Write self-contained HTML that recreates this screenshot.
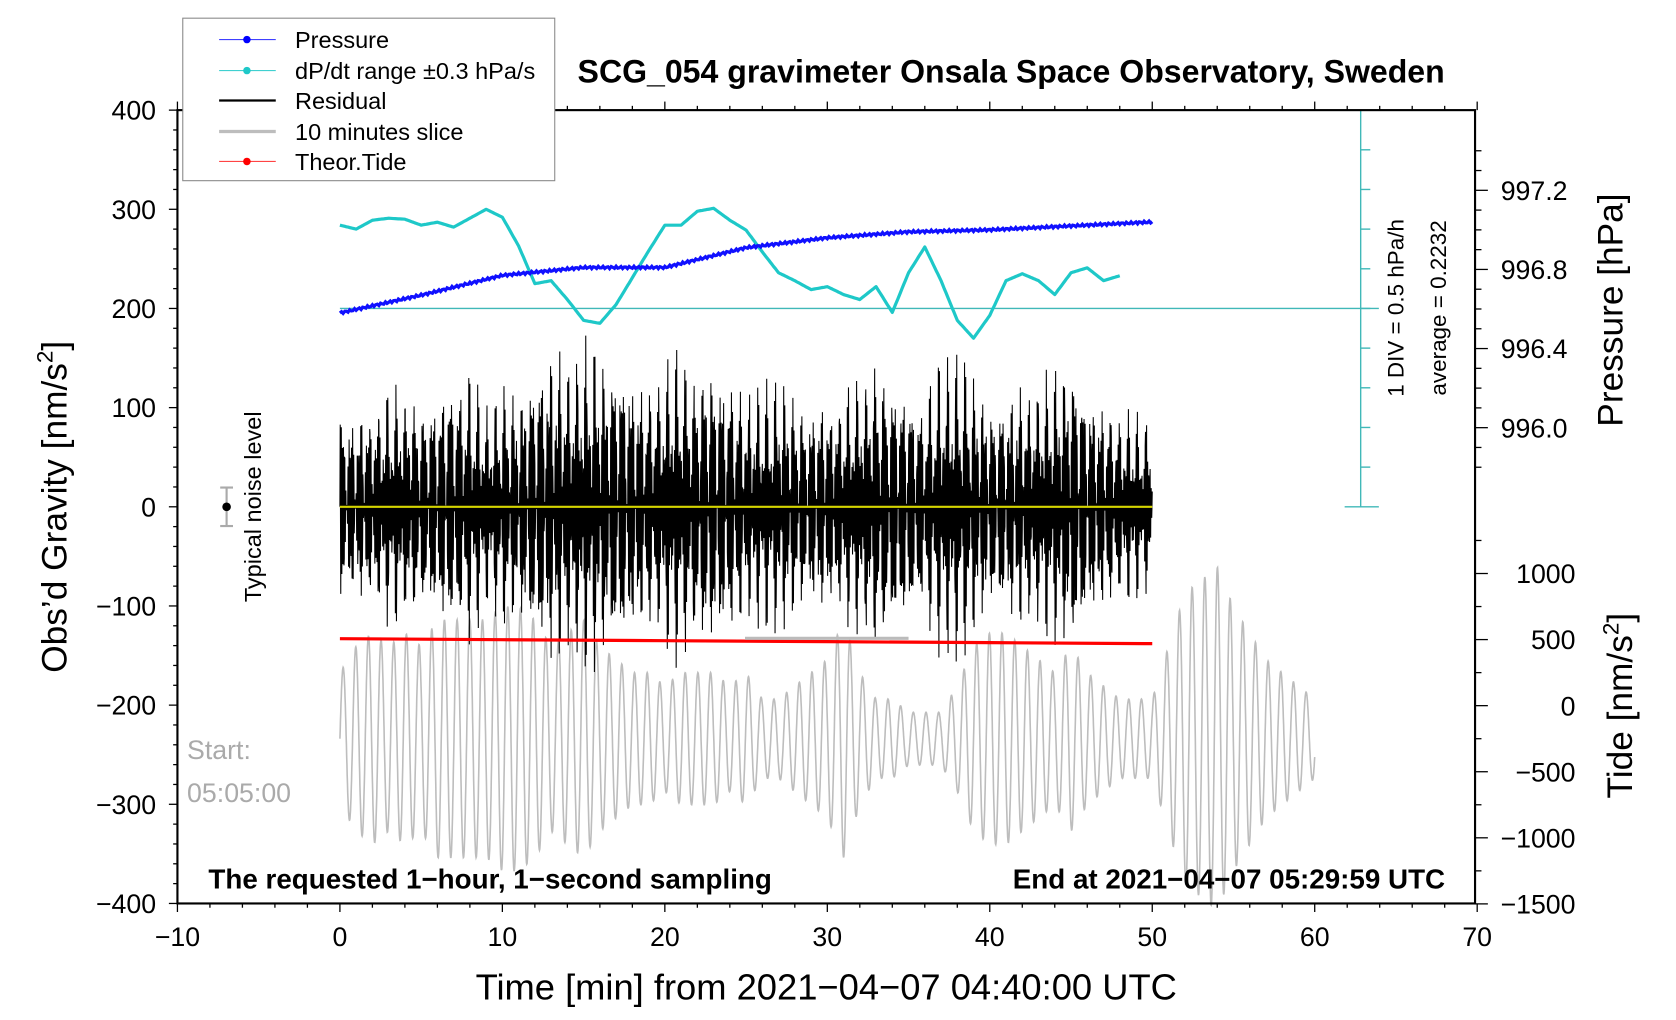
<!DOCTYPE html>
<html><head><meta charset="utf-8"><style>
html,body{margin:0;padding:0;background:#fff}
svg{display:block;font-family:"Liberation Sans",sans-serif}
</style></head><body>
<svg id="chart" width="1676" height="1020" viewBox="0 0 1568 954" preserveAspectRatio="none" xmlns="http://www.w3.org/2000/svg">
<rect width="1568" height="954" fill="#fff"/>
<g id="marks"></g>
<g id="axes"></g>
</svg>
<script>
// ---- data ----
const pressMin = [0,5,10,15,20,25,30,35,40,45,50];
const pressVal = [996.58,996.67,996.77,996.81,996.81,996.91,996.96,996.99,997.00,997.02,997.04];
const dpdtMin = [0,1,2,3,4,5,6,7,8,9,10,11,12,13,14,15,16,17,18,19,20,21,22,23,24,25,26,27,28,29,30,31,32,33,34,35,36,37,38,39,40,41,42,43,44,45,46,47,48];
const dpdtVal = [284,280,289,291,290,284,287,282,291,300,292,263,225,228,209,188,185,204,231,258,284,284,298,301,289,279,257,236,228,219,222,214,209,222,196,236,262,228,188,170,193,228,235,228,214,236,241,228,233];
const residAmp = [110,95,120,130,140,120,130,150,145,110,130,120,150,170,160,180,175,170,150,140,160,180,150,160,140,120,130,140,120,110,120,130,150,170,150,130,120,160,170,140,110,120,130,140,150,180,130,120,110,100,100];
const sliceAmp = [500,700,800,700,800,700,900,900,900,900,1000,1000,900,700,800,900,700,600,500,500,400,500,500,500,400,500,300,300,400,500,600,900,500,300,300,200,200,200,400,700,800,800,700,600,500,700,500,400,300,300,300,700,1100,1200,1300,1000,800,600,500,400,300];
const sliceCenter = -250;
const tideMin = [0,10,20,30,40,50];
const tideVal = [-133,-134,-135,-136,-137,-138];
const xTicks = [-10,0,10,20,30,40,50,60,70];
const yTicks = [400,300,200,100,0,-100,-200,-300,-400];
const pTicks = [997.2,996.8,996.4,996.0];
const tTicks = [1000,500,0,-500,-1000,-1500];

// ---- axes functions ----
const X = m => 318 + m*15.2;
const Y = v => 474 - v*0.9275;
const P = p => 178 + (997.2-p)*185;
const T = t => 660 - t*0.1236;
const NS='http://www.w3.org/2000/svg';
const marks=document.getElementById('marks'), axes=document.getElementById('axes');
function mk(tag,attrs,parent,txt){const e=document.createElementNS(NS,tag);for(const k in attrs)e.setAttribute(k,attrs[k]);if(txt!==undefined)e.textContent=txt;parent.appendChild(e);return e;}
function interp(xs,ys,x){if(x<=xs[0])return ys[0];for(let i=1;i<xs.length;i++){if(x<=xs[i]){const f=(x-xs[i-1])/(xs[i]-xs[i-1]);return ys[i-1]+f*(ys[i]-ys[i-1]);}}return ys[ys.length-1];}

// gray 10-minute slice
let d='';
for(let i=0;i<=600*6;i++){const m=i/60;const a=interp(sliceAmp.map((_,k)=>k),sliceAmp,m);const v=sliceCenter+a*Math.sin(m*2*Math.PI/0.78);d+=(i?'L':'M')+X(m).toFixed(1)+','+T(v).toFixed(1);}
let e=mk('path',{d:d,fill:'none',stroke:'#bdbdbd','stroke-width':1.5},marks);



// residual
d='';
for(let i=0;i<=3000;i++){const m=i/60;const a=interp(residAmp.map((_,k)=>k),residAmp,m);const mod=0.5+0.3*Math.sin(m*11.3)+0.2*Math.sin(m*23.7+1.1);const v=a*Math.sin(m*2*Math.PI/0.07+0.6*Math.sin(m*3.1))*mod;d+=(i?'L':'M')+X(m).toFixed(1)+','+Y(v).toFixed(1);}
e=mk('path',{d:d,fill:'none',stroke:'#000','stroke-width':1},marks);



// yellow zero line
e=mk('line',{x1:X(0),x2:X(50),y1:Y(0),y2:Y(0),stroke:'#d4d400','stroke-width':2},marks);



// tide red
e=mk('path',{d:tideMin.map((m,i)=>(i?'L':'M')+X(m)+','+Y(tideVal[i])).join(''),fill:'none',stroke:'#f00','stroke-width':3},marks);



// cyan baseline/scale
e=mk('line',{x1:X(0),x2:1290,y1:Y(200),y2:Y(200),stroke:'#40b8b8','stroke-width':1.3},marks);


e=mk('g',{stroke:'#40b8b8','stroke-width':1.3},marks);


mk('line',{x1:1273,x2:1273,y1:103,y2:474},e);
mk('line',{x1:1258,x2:1290,y1:474,y2:474},e);
for(let k=1;k<10;k++){const y=103+k*37.1;mk('line',{x1:1273,x2:1282,y1:y,y2:y},e);}

// cyan dP/dt
d='';
for(let i=0;i<=480;i++){const m=i/10;const v=interp(dpdtMin,dpdtVal,m);d+=(i?'L':'M')+X(m).toFixed(1)+','+Y(v).toFixed(1);}
e=mk('path',{d:d,fill:'none',stroke:'#1ec8c8','stroke-width':3,'stroke-linejoin':'round'},marks);



// pressure
d='';
for(let i=0;i<=500;i++){const m=i/10;const v=interp(pressMin,pressVal,m)+0.006*Math.sin(i*2.3);d+=(i?'L':'M')+X(m).toFixed(1)+','+P(v).toFixed(1);}
e=mk('path',{d:d,fill:'none',stroke:'#1010ff','stroke-width':3},marks);



// frame
e=mk('rect',{x:166,y:103,width:1214,height:742,fill:'none',stroke:'#000','stroke-width':2},axes);



// x ticks
const xg=mk('g',{},axes);


for(let m=-10;m<=70;m+=2){const maj=m%10===0;mk('line',{x1:X(m),x2:X(m),y1:845,y2:845+(maj?8:4),stroke:'#000','stroke-width':1.2},xg);mk('line',{x1:X(m),x2:X(m),y1:103,y2:103-(maj?8:4),stroke:'#000','stroke-width':1.2},xg);}
xTicks.forEach(t=>{const l=mk('text',{x:X(t),y:885,'font-size':25,'text-anchor':'middle'},xg,String(t).replace('-','\u2212'));});

// y ticks
const yg=mk('g',{},axes);


for(let v=-400;v<=400;v+=20){const maj=v%100===0;mk('line',{x1:166,x2:166-(maj?8:4),y1:Y(v),y2:Y(v),stroke:'#000','stroke-width':1.2},yg);}
yTicks.forEach(t=>{const l=mk('text',{x:146,y:Y(t)+9,'font-size':25,'text-anchor':'end'},yg,String(t).replace('-','\u2212'));});

// pressure axis
const pg=mk('g',{},axes);


for(let p=997.4;p>=995.7;p-=0.1){const y=P(p);if(y<103||y>474)continue;const maj=Math.abs(Math.round(p*10)%4)===0;mk('line',{x1:1380,x2:1380+(maj?12:6),y1:y,y2:y,stroke:'#000','stroke-width':1.2},pg);}
pTicks.forEach(t=>{const l=mk('text',{x:1404,y:P(t)+9,'font-size':25},pg,t.toFixed(1));});

// tide axis
const tg=mk('g',{},axes);


for(let t=-1500;t<=1300;t+=250){const maj=t%500===0;mk('line',{x1:1380,x2:1380+(maj?12:6),y1:T(t),y2:T(t),stroke:'#000','stroke-width':1.2},tg);}
tTicks.forEach(t=>{const l=mk('text',{x:1474,y:T(t)+9,'font-size':25,'text-anchor':'end'},tg,String(t).replace('-','\u2212'));});
</script>
<svg style="position:absolute;left:0;top:0" width="1676" height="1020" viewBox="0 0 1568 954" preserveAspectRatio="none" xmlns="http://www.w3.org/2000/svg" font-family="Liberation Sans, sans-serif">
<text x="946" y="77" font-size="30" font-weight="bold" text-anchor="middle">SCG_054 gravimeter Onsala Space Observatory, Sweden</text>
<text x="773" y="935" font-size="34" text-anchor="middle">Time [min] from 2021−04−07 04:40:00 UTC</text>
<text transform="translate(62,474) rotate(-90)" font-size="33" text-anchor="middle">Obs’d Gravity [nm/s<tspan font-size="21" dy="-13">2</tspan><tspan dy="13">]</tspan></text>
<text transform="translate(1518,290) rotate(-90)" font-size="33" text-anchor="middle">Pressure [hPa]</text>
<text transform="translate(1527,660) rotate(-90)" font-size="33" text-anchor="middle">Tide [nm/s<tspan font-size="21" dy="-13">2</tspan><tspan dy="13">]</tspan></text>
<text transform="translate(1313,288) rotate(-90)" font-size="21" text-anchor="middle">1 DIV = 0.5 hPa/h</text>
<text transform="translate(1353,288) rotate(-90)" font-size="21" text-anchor="middle">average = 0.2232</text>
<g stroke="#aaa" stroke-width="2"><line x1="212" x2="212" y1="456" y2="492"/><line x1="206" x2="218" y1="456" y2="456"/><line x1="206" x2="218" y1="492" y2="492"/></g>
<circle cx="212" cy="474" r="4" fill="#000"/>
<text transform="translate(244,474) rotate(-90)" font-size="22" text-anchor="middle">Typical noise level</text>
<text x="175" y="710" font-size="25" fill="#aaa">Start:</text>
<text x="175" y="750" font-size="25" fill="#aaa">05:05:00</text>
<line x1="697" x2="850" y1="597" y2="597" stroke="#bbb" stroke-width="3"/>
<text x="195" y="831" font-size="26" font-weight="bold">The requested 1−hour, 1−second sampling</text>
<text x="1352" y="831" font-size="26" font-weight="bold" text-anchor="end">End at 2021−04−07 05:29:59 UTC</text>
<g>
<rect x="171" y="17" width="348" height="152" fill="#fff" stroke="#888" stroke-width="1"/>
<g><line x1="205" x2="258" y1="37" y2="37" stroke="#4040ff"/><circle cx="231" cy="37" r="3.5" fill="#00f"/><text x="276" y="45" font-size="22">Pressure</text></g>
<g><line x1="205" x2="258" y1="66" y2="66" stroke="#40d0d0"/><circle cx="231" cy="66" r="3.5" fill="#1ec8c8"/><text x="276" y="74" font-size="22">dP/dt range ±0.3 hPa/s</text></g>
<g><line x1="205" x2="258" y1="94" y2="94" stroke="#000" stroke-width="2"/><text x="276" y="102" font-size="22">Residual</text></g>
<g><line x1="205" x2="258" y1="123" y2="123" stroke="#bdbdbd" stroke-width="3"/><text x="276" y="131" font-size="22">10 minutes slice</text></g>
<g><line x1="205" x2="258" y1="151" y2="151" stroke="#f44"/><circle cx="231" cy="151" r="3.5" fill="#f00"/><text x="276" y="159" font-size="22">Theor.Tide</text></g>
</g>
</svg>
</body></html>
